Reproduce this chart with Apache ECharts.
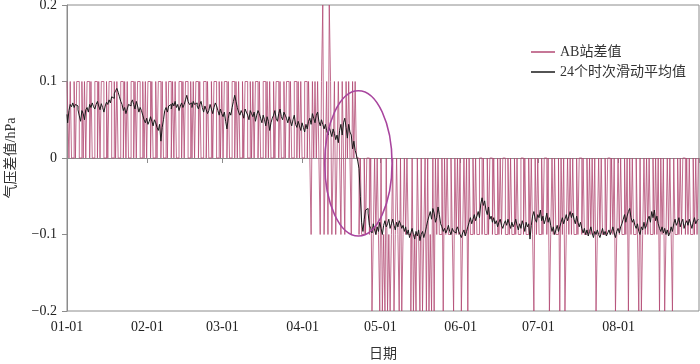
<!DOCTYPE html>
<html>
<head>
<meta charset="utf-8">
<script src="https://cdn.jsdelivr.net/npm/echarts@6/dist/echarts.min.js"></script>
<style>
  html, body { margin: 0; padding: 0; background: #fff; }
  #main { width: 700px; height: 364px; }
</style>
</head>
<body>
<div id="main"></div>
<script>
// AB站差值, one reading every 12 h from 01-01 00 to 09-01 00, in units of 0.1 hPa
const diffTenths = [
  1,1,0,1,0,0,1,0,1,1,0,0,1,0,1,
  0,1,1,0,1,0,0,1,1,0,1,0,1,1,0,
  0,1,0,1,1,0,0,1,0,1,0,0,1,1,0,
  1,0,1,0,0,1,1,0,1,0,1,1,0,0,1,
  0,1,0,1,1,0,1,0,0,1,0,1,1,0,1,
  0,0,1,0,1,1,0,1,0,1,0,0,1,1,0,
  1,0,1,1,0,0,1,0,1,0,1,1,0,1,0,
  0,1,1,0,1,0,0,1,0,1,1,0,0,1,0,
  1,0,1,1,0,1,0,0,1,1,0,1,0,1,0,
  0,1,0,1,1,0,0,1,0,1,0,1,1,0,1,
  0,0,1,1,0,1,0,1,0,0,1,0,1,1,0,
  1,0,0,1,0,1,1,0,1,0,0,1,1,0,1,
  0,1,0,0,1,1,0,1,0,-1,1,0,1,0,1,
  0,-1,1,2,-1,0,1,-1,2,1,-1,0,1,-1,0,
  1,0,-1,1,0,-1,1,0,1,0,-1,1,0,1,0,
  0,-1,0,-1,-1,0,-1,0,0,-1,0,-2,-1,0,-1,
  0,-1,-2,0,-2,-1,-2,0,-2,-1,-2,-1,0,-2,-1,
  0,-1,-2,0,-2,-1,0,-1,0,-1,-1,-2,0,-2,-1,
  -2,0,-1,-2,0,-2,-1,0,-2,0,-2,-1,-2,0,-2,
  0,-1,0,-1,-1,0,-2,0,-1,0,-1,-1,0,-1,-2,
  0,-1,0,-1,0,-2,-1,0,-1,0,-2,0,-1,-1,0,
  -1,0,-1,-1,0,0,-1,0,-1,-1,0,-1,0,0,-1,
  0,-1,-1,0,-1,0,-1,0,0,-1,-1,0,-1,0,-1,
  -1,0,-1,0,-1,-1,0,0,-1,0,-1,-1,0,-1,0,
  -1,-2,0,-1,0,-1,-1,0,-1,0,0,-1,0,-2,-1,
  0,-1,0,-1,-1,0,-2,0,-1,0,-2,-1,0,-1,0,
  -1,0,-1,-1,0,-1,0,0,-1,0,-1,-1,0,-1,0,
  -1,0,-1,0,-2,-1,0,-1,0,-1,-1,0,-1,0,0,
  -1,0,-1,0,-2,-1,0,-1,0,-1,-1,0,-1,0,-2,
  0,-1,0,-1,-1,0,-1,-2,0,-2,-1,0,-1,0,-1,
  0,-1,-1,0,-1,0,-1,0,-2,0,-1,0,-2,-1,0,
  -1,0,-1,-2,0,-1,-1,0,-1,0,-1,0,0,-1,0,
  -1,0,-1,-1,0,-1,0,-1,0
];

// 24个时次滑动平均值, same 12 h steps, in units of 0.001 hPa
const avgThousandths = [
  57,46,62,70,67,72,66,70,68,63,
  55,48,62,58,50,63,66,60,70,66,
  72,67,64,70,74,68,63,71,66,60,
  68,73,70,76,72,80,78,84,88,91,
  86,80,74,70,62,66,58,64,70,68,
  72,76,70,64,74,68,60,66,62,56,
  50,46,52,44,48,54,48,42,50,46,
  40,36,44,22,40,50,62,66,60,68,
  70,64,72,68,74,66,70,62,68,72,
  66,70,76,82,74,70,72,66,74,70,
  72,68,64,70,74,66,60,68,63,58,
  62,70,64,58,66,72,68,62,56,64,
  58,54,60,48,38,52,60,56,66,74,
  82,74,66,60,56,62,58,52,64,60,
  56,50,62,58,54,60,48,56,62,58,
  52,46,56,50,42,54,48,36,46,52,
  56,62,52,48,58,64,54,50,60,56,
  52,46,54,48,42,50,56,44,40,48,
  42,36,46,40,34,44,38,48,52,44,
  58,52,46,56,60,48,42,50,44,38,
  44,36,30,40,34,28,38,32,24,30,
  20,36,44,30,46,52,40,26,44,34,
  30,12,22,10,4,-4,-14,-50,-84,-96,
  -80,-68,-66,-72,-88,-92,-98,-86,-94,-100,
  -90,-96,-84,-92,-100,-88,-82,-90,-86,-80,
  -92,-86,-80,-88,-94,-84,-90,-82,-86,-92,
  -88,-96,-90,-100,-94,-104,-98,-92,-100,-106,
  -96,-102,-94,-108,-100,-96,-104,-98,-90,-82,
  -76,-70,-80,-66,-72,-84,-78,-64,-74,-86,
  -90,-96,-92,-98,-94,-88,-96,-100,-92,-96,
  -98,-94,-90,-96,-100,-104,-98,-94,-102,-96,
  -90,-84,-78,-86,-80,-74,-82,-76,-70,-78,
  -60,-52,-62,-56,-68,-74,-64,-80,-76,-84,
  -78,-86,-82,-90,-84,-80,-88,-92,-86,-82,
  -88,-80,-86,-92,-84,-90,-86,-80,-88,-94,
  -86,-92,-82,-88,-96,-84,-90,-86,-106,-88,
  -76,-70,-80,-84,-74,-78,-68,-82,-76,-86,
  -80,-72,-84,-78,-88,-96,-90,-100,-94,-88,
  -96,-90,-84,-78,-86,-80,-74,-82,-76,-70,
  -78,-72,-80,-86,-76,-84,-90,-84,-92,-98,
  -92,-100,-94,-102,-96,-90,-98,-104,-96,-100,
  -94,-100,-104,-98,-92,-100,-96,-102,-98,-94,
  -100,-96,-90,-98,-104,-96,-92,-98,-90,-86,
  -80,-74,-84,-76,-70,-66,-78,-84,-80,-88,
  -92,-86,-96,-100,-90,-94,-84,-92,-88,-80,
  -76,-84,-70,-78,-68,-82,-76,-86,-92,-96,
  -90,-98,-92,-100,-94,-102,-98,-90,-96,-86,
  -80,-88,-84,-78,-90,-84,-80,-92,-86,-82,
  -88,-80,-86,-92,-84,-78,-86,-82,-80
];

const seriesNames = ['AB站差值', '24个时次滑动平均值'];
const yTicks = { min: -0.2, max: 0.2, step: 0.1 };
// circled area around the step change: centre (time slot, hPa) and half sizes
const markCentre = [225, -0.007];
const markHalf = [26.3, 0.095];

// half-day time slots, 'MM-DD HH'
const slots = [];
for (let i = 0; i < diffTenths.length; i++) {
  const d = new Date(Date.UTC(2016, 0, 1) + i * 12 * 3600 * 1000);
  const mm = String(d.getUTCMonth() + 1).padStart(2, '0');
  const dd = String(d.getUTCDate()).padStart(2, '0');
  const hh = String(d.getUTCHours()).padStart(2, '0');
  slots.push(mm + '-' + dd + ' ' + hh);
}

const diffData = diffTenths.map(v => +(v * 0.1).toFixed(1));
const avgData = avgThousandths.map(v => v / 1000);

const font = '"Liberation Serif", "Noto Sans CJK SC", serif';
const isMonthStart = (idx, val) => val.slice(2) === '-01 00';

const myChart = echarts.init(document.getElementById('main'));
myChart.setOption({
  animation: false,
  textStyle: { fontFamily: font },
  grid: {
    left: 67, right: 1, top: 5, bottom: 53,
    outerBoundsMode: 'none',
    containLabel: false,
    show: true, borderColor: '#8c8c8c', borderWidth: 1
  },
  legend: {
    orient: 'vertical',
    left: 526, top: 40,
    icon: 'rect',
    itemWidth: 24, itemHeight: 1.5, itemGap: 6,
    textStyle: { fontFamily: font, fontSize: 14, color: '#333' },
    data: seriesNames
  },
  xAxis: {
    type: 'category',
    boundaryGap: false,
    data: slots,
    name: '日期',
    nameLocation: 'middle',
    nameGap: 36,
    nameTextStyle: { fontFamily: font, fontSize: 14, color: '#333' },
    axisLine: { lineStyle: { color: '#8c8c8c' } },
    axisTick: { interval: isMonthStart, length: 5, lineStyle: { color: '#8c8c8c' } },
    axisLabel: {
      interval: (idx, val) => isMonthStart(idx, val) && idx < slots.length - 1,
      formatter: v => v.slice(0, 5),
      fontFamily: font, fontSize: 14, color: '#222', margin: 9
    },
    splitLine: { show: false }
  },
  yAxis: {
    type: 'value',
    min: yTicks.min, max: yTicks.max, interval: yTicks.step,
    name: '气压差值/hPa',
    nameLocation: 'middle',
    nameGap: 49,
    nameTextStyle: { fontFamily: font, fontSize: 14, color: '#333' },
    axisLine: { show: true, lineStyle: { color: '#8c8c8c' } },
    axisTick: { show: true, length: 5, lineStyle: { color: '#8c8c8c' } },
    axisLabel: {
      formatter: v => (Math.abs(v) < 1e-9 ? '0' : (v < 0 ? '\u2212' + Math.abs(v).toFixed(1) : v.toFixed(1))),
      fontFamily: font, fontSize: 14, color: '#222', margin: 10
    },
    splitLine: { show: false }
  },
  series: [
    {
      name: seriesNames[0],
      type: 'line',
      step: 'middle',
      symbol: 'none',
      data: diffData,
      color: '#b34a74',
      lineStyle: { width: 0.8, color: '#b34a74' },
      z: 2
    },
    {
      name: seriesNames[1],
      type: 'line',
      step: 'middle',
      symbol: 'none',
      data: avgData,
      color: '#1a1a1a',
      lineStyle: { width: 1, color: '#1a1a1a' },
      z: 3
    }
  ]
});

// purple ellipse marking the jump, placed through the axes
const p0 = myChart.convertToPixel({ gridIndex: 0 }, [markCentre[0] - markHalf[0], markCentre[1] + markHalf[1]]);
const p1 = myChart.convertToPixel({ gridIndex: 0 }, [markCentre[0] + markHalf[0], markCentre[1] - markHalf[1]]);
myChart.setOption({
  graphic: [{
    type: 'ellipse',
    shape: {
      cx: (p0[0] + p1[0]) / 2, cy: (p0[1] + p1[1]) / 2,
      rx: Math.abs(p1[0] - p0[0]) / 2, ry: Math.abs(p1[1] - p0[1]) / 2
    },
    style: { fill: 'none', stroke: '#a8459e', lineWidth: 1.6 },
    z: 10
  }]
});
</script>
</body>
</html>
